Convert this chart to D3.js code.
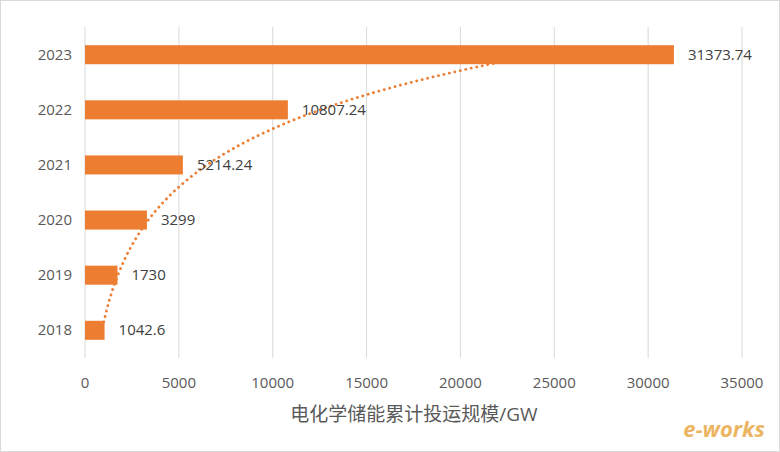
<!DOCTYPE html>
<html><head><meta charset="utf-8">
<script src="https://cdn.jsdelivr.net/npm/d3@7"></script>
<style>body{margin:0;background:#fff}text{font-family:"Open Sans","Noto Sans CJK SC",sans-serif}</style>
</head><body><svg id="c" width="780" height="452"></svg>
<script>
const years=["2018","2019","2020","2021","2022","2023"];
const values=[1042.6,1730,3299,5214.24,10807.24,31373.74];
const labels=["1042.6","1730","3299","5214.24","10807.24","31373.74"];
const ticks=[0,5000,10000,15000,20000,25000,30000,35000];
const svg=d3.select("#c");
svg.append("rect").attr("x",0.5).attr("y",0.5).attr("width",779).attr("height",451).attr("fill","#fff").attr("stroke","#d9d9d9");
const x=d3.scaleLinear().domain([0,35000]).range([85,742]);
const y=d3.scaleBand().domain(years.slice().reverse()).range([27,358]).paddingInner(0.655).paddingOuter(0.33);
svg.append("g").selectAll("line").data(ticks).join("line")
 .attr("x1",d=>x(d)).attr("x2",d=>x(d)).attr("y1",27).attr("y2",358).attr("stroke","#d9d9d9").attr("stroke-width",1);
svg.append("g").selectAll("rect").data(values).join("rect")
 .attr("x",x(0)).attr("y",(d,i)=>y(years[i])).attr("width",d=>x(d)-x(0)).attr("height",y.bandwidth()).attr("fill","#ED7D31");
const ids=values.map((d,i)=>i+1),lv=values.map(Math.log);
const mi=d3.mean(ids),ml=d3.mean(lv);
const b=d3.sum(ids,(t,i)=>(t-mi)*(lv[i]-ml))/d3.sum(ids,t=>(t-mi)*(t-mi));
const a=ml-b*mi;
const yc=t=>{const c0=y(years[0])+y.bandwidth()/2,c1=y(years[5])+y.bandwidth()/2;return c0+(t-1)*(c1-c0)/5;};
const pts=d3.range(1.15,5.86,0.05).map(t=>[x(Math.exp(a+b*t)),yc(t)]);
svg.append("path").attr("d",d3.line()(pts)).attr("fill","none").attr("stroke","#ED7D31").attr("stroke-width",2.8).attr("stroke-dasharray","0.1,5.5").attr("stroke-linecap","round");
svg.append("g").selectAll("text").data(values).join("text")
 .attr("x",d=>x(d)+14).attr("y",(d,i)=>y(years[i])+y.bandwidth()/2+5).text((d,i)=>labels[i])
 .attr("font-size",15).attr("fill","#404040");
svg.append("g").selectAll("text").data(years).join("text")
 .attr("x",72).attr("y",d=>y(d)+y.bandwidth()/2+5).attr("text-anchor","end").text(d=>d).attr("font-size",15).attr("fill","#595959");
svg.append("g").selectAll("text").data(ticks).join("text")
 .attr("x",d=>x(d)).attr("y",388).attr("text-anchor","middle").text(d=>d).attr("font-size",15).attr("fill","#595959");
svg.append("text").attr("x",414).attr("y",421).attr("text-anchor","middle").text("电化学储能累计投运规模/GW").attr("font-size",19).attr("fill","#595959");
svg.append("text").attr("x",765).attr("y",437).attr("text-anchor","end").text("e-works").attr("font-size",22).attr("font-style","italic").attr("font-weight","bold").attr("fill","#e8a33a").attr("opacity",0.8);
</script></body></html>
